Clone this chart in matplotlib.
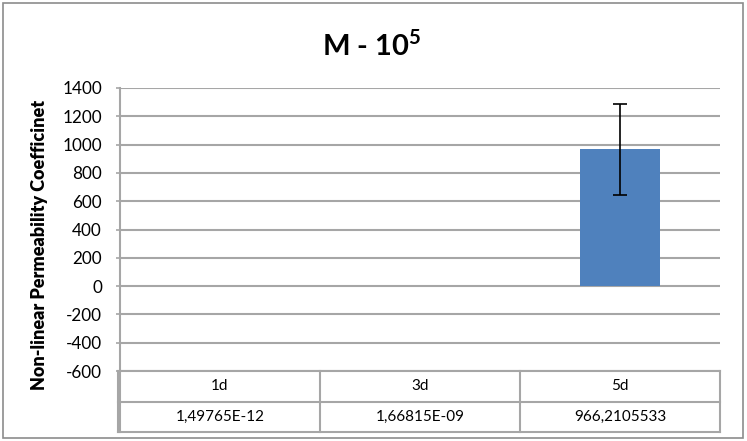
import matplotlib.pyplot as plt
import numpy as np

categories = ['1d', '3d', '5d']
values = [1.49765e-12, 1.66815e-09, 966.2105533]
errors = [0, 0, 320]
value_labels = ['1,49765E-12', '1,66815E-09', '966,2105533']
yticks = [-600, -400, -200, 0, 200, 400, 600, 800, 1000, 1200, 1400]

plt.rcParams['font.family'] = ['Lato', 'DejaVu Sans']
plt.rcParams['mathtext.fontset'] = 'custom'
plt.rcParams['mathtext.rm'] = 'Lato'
plt.rcParams['mathtext.bf'] = 'Lato:bold'

W, H = 747, 441
fig = plt.figure(figsize=(W / 100, H / 100), dpi=100)

grid_col = '#a6a6a6'
bar_col = '#4f81bd'

# plot area
ax = fig.add_axes([120 / W, 1 - 371 / H, 600 / W, (371 - 88) / H])
x = np.arange(len(categories))
ax.bar(x, values, width=0.4, color=bar_col, zorder=2)
for xi, v, e in zip(x, values, errors):
    if e > 0:
        ax.errorbar(xi, v, yerr=e, fmt='none', ecolor='black', elinewidth=1.2,
                    capsize=5, capthick=1.2, zorder=3)
ax.set_xlim(-0.5, len(categories) - 0.5)
ax.set_ylim(yticks[0], yticks[-1])
ax.set_yticks(yticks)
ax.set_yticklabels([str(t) for t in yticks], fontsize=12.3)
ax.set_xticks([])
for t in yticks:
    ax.axhline(t, color=grid_col, lw=1.5, zorder=1)
for s in ['top', 'right', 'bottom']:
    ax.spines[s].set_visible(False)
ax.spines['left'].set_color(grid_col)
ax.spines['left'].set_linewidth(1.5)
ax.tick_params(axis='y', length=3, color=grid_col, width=1.2, pad=10)

fig.text(40 / W, 1 - 245 / H, 'Non-linear Permeability Coefficinet', rotation=90,
         ha='center', va='center', fontsize=13, fontweight='heavy')

# data table under the plot area
tab = fig.add_axes([118 / W, 1 - 432 / H, 602 / W, (432 - 371) / H])
tab.set_xlim(-0.5 - 2 / 200, len(categories) - 0.5)
tab.set_ylim(0, 2)
tab.axis('off')
for yy in [0, 1, 2]:
    tab.axhline(yy, color=grid_col, lw=1.5, clip_on=False)
for b in np.arange(len(categories) + 1) - 0.5:
    tab.axvline(b, color=grid_col, lw=1.5, clip_on=False)
tab.axvline(-0.5 - 2 / 200, color=grid_col, lw=1.5, clip_on=False)
for xi, c, lab in zip(x, categories, value_labels):
    tab.text(xi, 1.5, c, ha='center', va='center', fontsize=11)
    tab.text(xi, 0.5, lab, ha='center', va='center', fontsize=11)

fig.text(372 / W, 1 - 45 / H, r'M - 10$^{\mathbf{5}}$', ha='center', va='center',
         fontsize=21, fontweight='bold')

# outer chart border
border = plt.Rectangle((3 / W, 3 / H), 740 / W, 435 / H, transform=fig.transFigure,
                       fill=False, edgecolor='#8c8c8c', lw=1.2)
fig.patches.append(border)

fig.savefig('out.png', dpi=100)
